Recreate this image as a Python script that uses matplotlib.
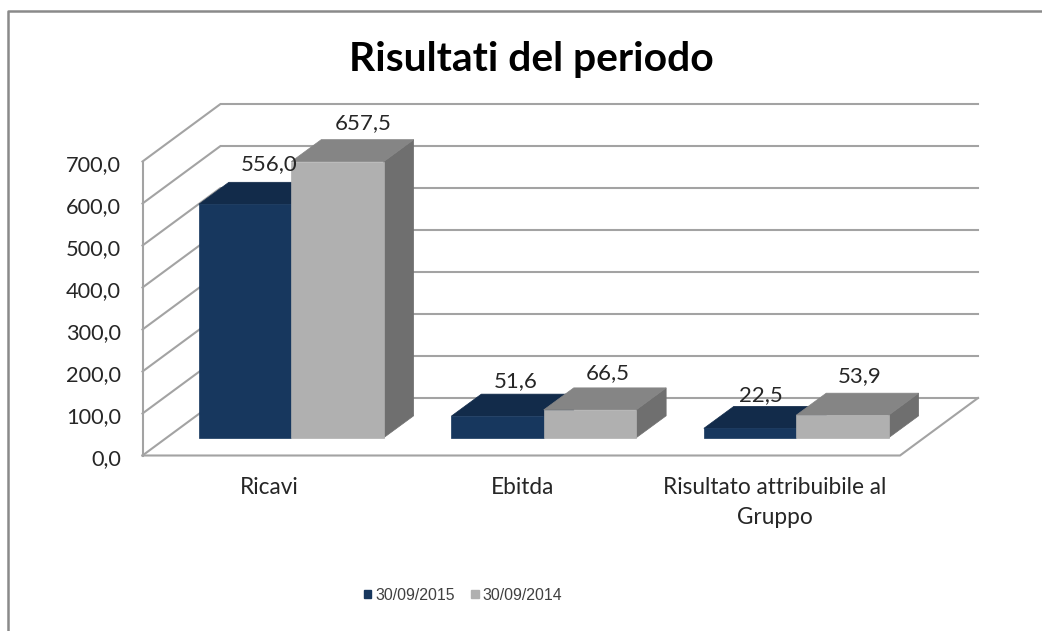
import matplotlib
matplotlib.use("Agg")
import matplotlib.pyplot as plt
from matplotlib.patches import Polygon, Patch

plt.rcParams['font.family'] = ['Lato', 'DejaVu Sans']

categories = ['Ricavi', 'Ebitda', 'Risultato attribuibile al\nGruppo']
series_names = ['30/09/2015', '30/09/2014']
values_2015 = [556.0, 51.6, 22.5]
values_2014 = [657.5, 66.5, 53.9]
ticks = [0, 100, 200, 300, 400, 500, 600, 700]
title = 'Risultati del periodo'

# geometry of the fake 3d box, in pixels
left, right, floor = 142.5, 900.0, 455.5
unit = 294.0 / 700
wall_dx, wall_dy = 78.0, -57.5
bar_w = 92.4
bar_shift_x, bar_shift_y = 22.5, -17.7
depth_x, depth_y = 30.0, -22.0

# label nudges from bar centre / back of the bar top
label_dx = [[24.5, 26], [18, 18], [11, 17]]
label_dy = [[-18, -17], [-13, -15], [-11, -17]]

grid_col = '#a3a3a3'
text_col = '#262626'
colors = {
    '30/09/2015': ('#17375e', '#122b4a', '#10253f'),
    '30/09/2014': ('#b0b0b0', '#858585', '#6f6f6f'),
}


def val_y(v):
    return floor - v * unit


def fmt(v):
    return f'{v:.1f}'.replace('.', ',')


fig = plt.figure(figsize=(10.42, 6.31), dpi=100)
ax = fig.add_axes([0, 0, 1, 1])
ax.set_xlim(0, 1042)
ax.set_ylim(631, 0)
ax.axis('off')

# outer frame, only top and left are visible
ax.plot([8, 8, 1042], [631, 11, 11], color='#8a8a8a', lw=1.8, zorder=1)

# walls and gridlines
for t in ticks:
    y = val_y(t)
    ax.plot([left, left + wall_dx, left + wall_dx + right - left],
            [y, y + wall_dy, y + wall_dy],
            color=grid_col, lw=1.5, zorder=2, solid_joinstyle='miter')
    ax.text(left - 21.5, y + 3.5, fmt(t), ha='right', va='center', fontsize=15.7, color=text_col, zorder=6)

ax.plot([left, left], [val_y(0), val_y(ticks[-1])], color=grid_col, lw=1.5, zorder=2)
ax.plot([left, right, right + wall_dx], [floor, floor, floor + wall_dy],
        color=grid_col, lw=1.5, zorder=2, solid_joinstyle='miter')

# bars, drawn as front/top/side polygons
step = (right - left) / len(categories)
for i, cat in enumerate(categories):
    centre = left + step * (i + 0.5)
    x0 = centre + bar_shift_x - bar_w
    for j, (name, vals) in enumerate(zip(series_names, [values_2015, values_2014])):
        front, top, side = colors[name]
        xa = x0 + j * bar_w
        xb = xa + bar_w
        base = floor + bar_shift_y
        ytop = base - vals[i] * unit
        ax.add_patch(Polygon([(xb, base), (xb + depth_x, base + depth_y),
                              (xb + depth_x, ytop + depth_y), (xb, ytop)],
                             facecolor=side, edgecolor=side, lw=0.5, zorder=3 + j))
        ax.add_patch(Polygon([(xa, ytop), (xa + depth_x, ytop + depth_y),
                              (xb + depth_x, ytop + depth_y), (xb, ytop)],
                             facecolor=top, edgecolor=top, lw=0.5, zorder=3 + j))
        ax.add_patch(Polygon([(xa, base), (xb, base), (xb, ytop), (xa, ytop)],
                             facecolor=front, edgecolor=front, lw=0.5, zorder=3 + j))
        ax.text((xa + xb) / 2 + label_dx[i][j], ytop + depth_y + label_dy[i][j], fmt(vals[i]),
                ha='center', va='center', fontsize=16, color=text_col, zorder=7)
    ax.text(centre + 1, floor + 22, cat, ha='center', va='top', fontsize=16.3,
            color=text_col, linespacing=1.5, zorder=6)

ax.text(531, 60, title, ha='center', va='center', fontsize=29.4, fontweight='bold', color='black')

handles = [Patch(color=colors[n][0], label=n) for n in series_names]
leg = ax.legend(handles=handles, loc='center', bbox_to_anchor=(463, 595),
                bbox_transform=ax.transData, ncols=2, frameon=False,
                handlelength=0.45, handleheight=0.45, handletextpad=0.25, columnspacing=1.07,
                prop={'family': 'Liberation Sans', 'size': 11.4})
for txt in leg.get_texts():
    txt.set_color('#404040')

fig.savefig('out.png', dpi=100)
